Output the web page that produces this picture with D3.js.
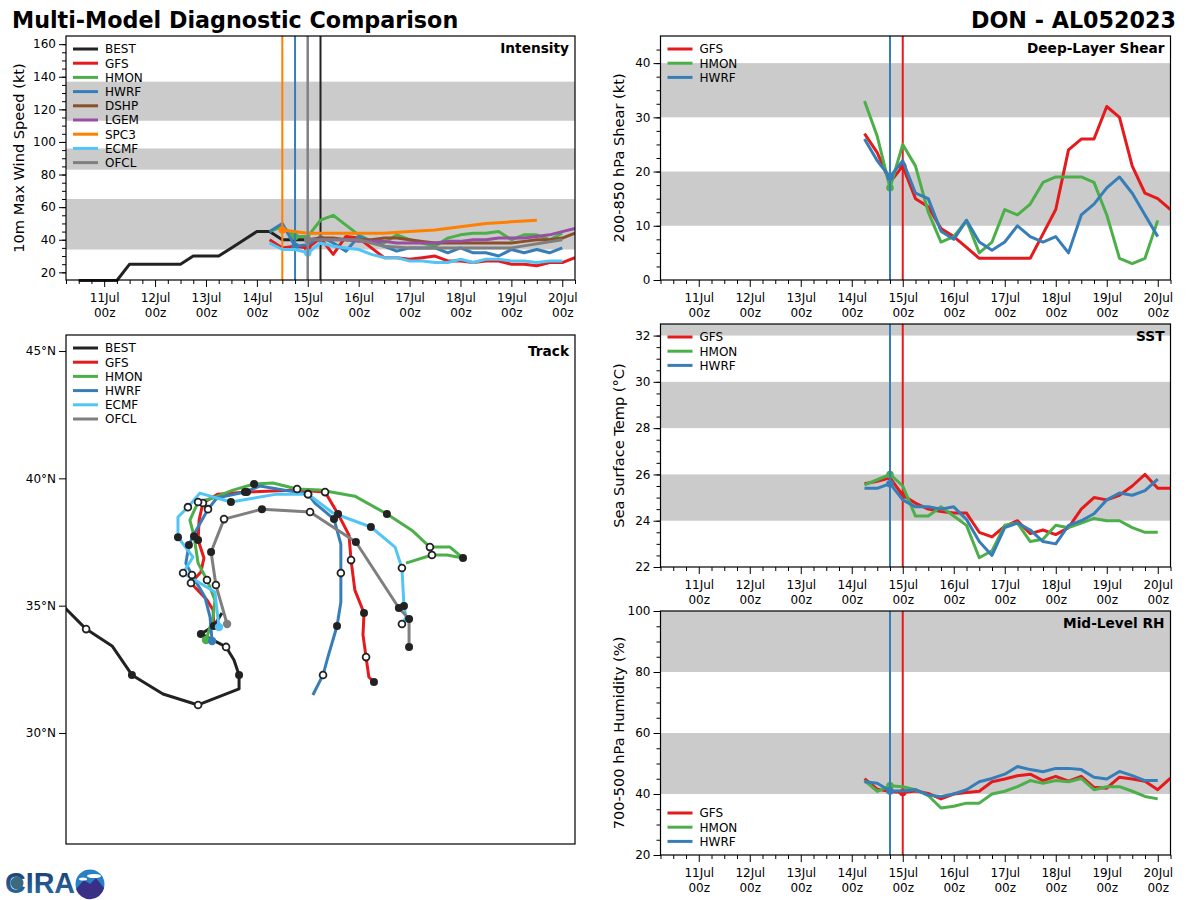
<!DOCTYPE html>
<html>
<head>
<meta charset="utf-8">
<script src="https://cdn.jsdelivr.net/npm/d3@7"></script>
<style>
body { margin: 0; background: #fff; }
text { font-family: "DejaVu Sans", sans-serif; fill: #000; }
</style>
</head>
<body>
<div id="chart"></div>
<script>
// hours are counted from 11Jul 00z
const tickHours = [0, 24, 48, 72, 96, 120, 144, 168, 192, 216]
const tickDays = ['11Jul', '12Jul', '13Jul', '14Jul', '15Jul', '16Jul', '17Jul', '18Jul', '19Jul', '20Jul']

const bestHours = [-12, -6, 0, 6, 12, 18, 24, 30, 36, 42, 48, 54, 60, 66, 72, 78, 84, 90, 96, 102]
const bestWind = [15, 15, 15, 15, 25, 25, 25, 25, 25, 30, 30, 30, 35, 40, 45, 45, 40, 40, 40, 40]

// 6 hourly from 14Jul 06z (hour 78)
const gfsWind = [40, 35, 36, 35, 41, 31, 42, 41, 35, 29, 29, 28, 29, 30, 27, 27, 26, 27, 27, 25, 25, 24, 26, 26, 29]
const hmonWind = [45, 48, 42, 42, 52, 55, 49, 43, 39, 38, 43, 40, 38, 36, 41, 43, 44, 44, 45, 40, 43, 43, 40, 44]
const hwrfWind = [45, 50, 36, 37, 42, 38, 33, 42, 39, 36, 33, 35, 35, 35, 32, 35, 32, 32, 30, 34, 32, 34, 32, 35]
const ecmfWind = [38, 34, 34, 32, 38, 36, 35, 34, 31, 29, 29, 27, 27, 26, 26, 28, 26, 28, 28, 27, 27, 26, 27, 27]
// 6 hourly from 15Jul 00z (hour 96)
const dshpWind = [40, 41, 41, 40, 40, 40, 41, 41, 40, 39, 38, 38, 38, 38, 38, 38, 38, 39, 40, 40, 41, 44]
const lgemWind = [40, 40, 40, 40, 39, 39, 39, 38, 38, 38, 38, 39, 39, 40, 40, 41, 41, 41, 42, 43, 45, 47]
// these two are not 6 hourly
const spc3Hours = [84, 96, 108, 120, 132, 144, 156, 168, 180, 192, 204]
const spc3Wind = [46, 44, 44, 44, 44, 45, 46, 48, 50, 51, 52]
const ofclHours = [96, 108, 120, 132, 144, 168, 192, 216]
const ofclWind = [40, 40, 40, 36, 35, 35, 35, 40]

const gfsShear = [27, 23.5, 18, 21, 15, 13.5, 9.5, 8, 6, 4, 4, 4, 4, 4, 8.5, 13, 24, 26, 26, 32, 30, 21, 16, 15, 13]
const hmonShear = [33, 26.5, 17, 25, 21, 12.5, 7, 8, 11, 5, 7, 13, 12, 14, 18, 19, 19, 19, 18, 12, 4, 3, 4, 11]
const hwrfShear = [26, 22, 19, 22, 16, 15, 9, 7.5, 11, 7, 5.5, 7, 10, 8, 7, 8, 5, 12, 14, 17, 19, 16, 12, 8]

const gfsSst = [25.6, 25.7, 25.85, 25.1, 24.76, 24.5, 24.4, 24.33, 24.33, 23.5, 23.3, 23.76, 24, 23.44, 23.6, 23.4, 23.7, 24.5, 25, 24.9, 25.1, 25.5, 26, 25.4, 25.4]
const hmonSst = [25.55, 25.77, 26, 25.5, 24.2, 24.2, 24.6, 24.2, 23.8, 22.4, 22.7, 23.8, 23.9, 23.1, 23.2, 23.8, 23.7, 23.9, 24.1, 24, 24, 23.7, 23.5, 23.5]
const hwrfSst = [25.4, 25.4, 25.6, 24.9, 24.6, 24.6, 24.5, 24.6, 24.05, 23.1, 22.5, 23.7, 23.9, 23.6, 23.1, 23, 23.8, 24, 24.3, 24.9, 25.2, 25.1, 25.3, 25.8]

const gfsRh = [45, 41.6, 40.8, 40.5, 41, 40.2, 38.4, 40, 40.5, 40.9, 44, 44.9, 46, 46.5, 44.4, 45.8, 44.2, 45.8, 42.2, 41.9, 45.5, 44.9, 44.2, 41.4, 45.2]
const hmonRh = [44.4, 40.9, 42.7, 42.4, 41.4, 39.5, 35.4, 36, 37, 37, 40, 40.9, 42.4, 44.4, 43.5, 44.4, 44, 45.1, 41.4, 42.4, 42.4, 40.9, 39.2, 38.4]
const hwrfRh = [44, 43.5, 41, 41, 41.4, 39.7, 39.2, 40, 41.4, 44, 45.1, 46.5, 49, 48, 47.3, 48.4, 48.4, 48, 45.5, 44.9, 47.4, 46, 44.4, 44.4]

// track points: lon, lat, synoptic time when the model marks one
const bestTrack = [[-60.08, 34.95], [-59.21, 34.08, '00z'], [-58.19, 33.42], [-57.41, 32.28, '12z'], [-56.19, 31.53], [-54.81, 31.10, '00z'], [-53.20, 31.73], [-53.20, 32.28, '12z'], [-53.40, 32.87], [-53.71, 33.38, '00z'], [-54.70, 33.89, '12z'], [-54.19, 34.20], [-53.87, 34.71]]
const gfsTrack = [[-54.19, 34.20, '12z'], [-54.22, 34.83], [-54.46, 35.22], [-55.09, 35.89, '00z'], [-54.70, 36.32], [-54.58, 36.87], [-54.81, 37.58, '12z'], [-54.77, 38.36], [-54.62, 39.03, '00z'], [-54.03, 39.38], [-52.89, 39.46, '12z'], [-50.92, 39.54], [-49.82, 39.46, '00z'], [-49.31, 38.60, '12z'], [-48.88, 37.77], [-48.80, 36.79, '00z'], [-48.65, 35.61], [-48.29, 34.71, '12z'], [-48.33, 33.85], [-48.21, 32.98, '00z'], [-48.10, 32.20], [-47.90, 32.00, '12z']]
const hmonTrack = [[-54.50, 33.65], [-54.22, 34.55], [-54.15, 35.22], [-54.46, 36.01, '00z'], [-54.81, 36.67], [-54.97, 37.73, '12z'], [-55.13, 38.36], [-54.81, 39.07, '00z'], [-54.22, 39.23], [-53.44, 39.54], [-52.61, 39.78, '12z'], [-51.87, 39.82], [-50.92, 39.58, '00z'], [-50.02, 39.54], [-48.65, 39.30], [-47.39, 38.60, '12z'], [-46.37, 37.93], [-45.70, 37.30, '00z'], [-44.91, 37.30], [-44.40, 36.87, '12z'], [-45.03, 36.99], [-45.62, 36.99, '00z'], [-46.64, 36.67]]
const hwrfTrack = [[-54.26, 33.61], [-54.34, 34.55], [-54.54, 35.34], [-55.05, 36.20, '00z'], [-55.29, 36.67], [-55.17, 37.38, '12z'], [-54.99, 37.77], [-54.42, 38.79, '00z'], [-54.07, 39.23], [-52.97, 39.46, '12z'], [-52.38, 39.70], [-50.49, 39.38, '00z'], [-50.22, 39.03], [-49.47, 38.40, '12z'], [-49.20, 37.42], [-49.20, 36.28, '00z'], [-49.20, 35.14], [-49.35, 34.20, '12z'], [-49.71, 32.98], [-49.90, 32.28, '00z'], [-50.30, 31.49]]
const ecmfTrack = [[-53.99, 34.16], [-54.15, 35.54], [-54.74, 35.89], [-55.40, 36.28, '00z'], [-55.01, 36.91], [-55.60, 37.69, '12z'], [-55.60, 38.48], [-55.21, 38.87, '00z'], [-54.74, 39.42], [-53.52, 39.07, '12z'], [-51.71, 39.38], [-50.49, 39.38, '00z'], [-49.51, 38.64], [-48.02, 38.09, '12z'], [-47.07, 37.30], [-46.80, 36.48, '00z'], [-46.72, 34.99, '12z'], [-46.64, 34.55], [-46.80, 34.28, '00z']]
const ofclTrack = [[-53.67, 34.28], [-54.11, 35.81, '00z'], [-54.30, 37.11, '12z'], [-53.79, 38.40, '00z'], [-52.30, 38.79, '12z'], [-50.41, 38.68, '00z'], [-48.61, 37.50, '12z'], [-46.92, 34.91, '12z'], [-46.52, 34.48, '12z'], [-46.52, 33.38, '12z']]
const latTicks = [30, 35, 40, 45]

const colors = { BEST: '#222222', GFS: '#e41a1c', HMON: '#4daf4a', HWRF: '#377eb8', DSHP: '#8c4f2b', LGEM: '#984ea3', SPC3: '#ff7f00', ECMF: '#52c5f7', OFCL: '#7f7f7f' }
const bandFill = '#cbcbcb'

const svg = d3.select('#chart').append('svg').attr('width', 1200).attr('height', 900)

svg.append('text').attr('x', 12).attr('y', 28).attr('font-size', 22.25).attr('font-weight', 'bold').text('Multi-Model Diagnostic Comparison')
svg.append('text').attr('x', 1176).attr('y', 28).attr('text-anchor', 'end').attr('font-size', 22.25).attr('font-weight', 'bold').text('DON - AL052023')

function sixHourly(values, start) {
    return values.map((v, i) => [start + i * 6, v])
}
function zipHours(hours, values) {
    return hours.map((h, i) => [h, values[i]])
}

let clipCount = 0
function makePanel(box, title, titleY) {
    const g = svg.append('g').attr('transform', 'translate(' + box.left + ',' + box.top + ')')
    const id = 'clip' + (clipCount++)
    // a little room below so the BEST line at the floor still shows
    g.append('clipPath').attr('id', id).append('rect').attr('y', -2).attr('width', box.w).attr('height', box.h + 4)
    const plot = g.append('g').attr('clip-path', 'url(#' + id + ')')
    const top = g.append('g')
    top.append('rect').attr('width', box.w).attr('height', box.h).attr('fill', 'none').attr('stroke', '#000').attr('stroke-width', 1.2)
    top.append('text').attr('x', box.w - 6).attr('y', titleY).attr('text-anchor', 'end')
        .attr('font-size', 13.7).attr('font-weight', 'bold').text(title)
    return { g: g, plot: plot, top: top }
}

function addLegend(top, names, x0, y0) {
    names.forEach((name, i) => {
        const y = y0 + i * 14.2
        top.append('line').attr('x1', x0).attr('x2', x0 + 25).attr('y1', y).attr('y2', y)
            .attr('stroke', colors[name]).attr('stroke-width', 3)
        top.append('text').attr('x', x0 + 32).attr('y', y + 4.3).attr('font-size', 12).text(name)
    })
}

function timePanel(opt) {
    const box = opt.box
    const p = makePanel(box, opt.title, 17)
    const x = d3.scaleLinear().domain([-18, 222]).range([0, box.w])
    const y = d3.scaleLinear().domain(opt.domain).range([box.h, 0])

    opt.bands.forEach(b => {
        p.plot.append('rect').attr('x', 0).attr('width', box.w)
            .attr('y', y(b[1])).attr('height', y(b[0]) - y(b[1])).attr('fill', bandFill)
    })

    const line = d3.line().x(d => x(d[0])).y(d => y(d[1]))
    opt.series.forEach(s => {
        if (s.init !== undefined && s.name !== 'HMON') {
            p.plot.append('line').attr('x1', x(s.init)).attr('x2', x(s.init)).attr('y1', 0).attr('y2', box.h)
                .attr('stroke', colors[s.name]).attr('stroke-width', 2)
        }
        p.plot.append('path').attr('d', line(s.points)).attr('fill', 'none')
            .attr('stroke', colors[s.name]).attr('stroke-width', 3).attr('stroke-linejoin', 'round')
        const dot = s.points.find(d => d[0] === s.init)
        if (dot && s.name !== 'BEST') {
            p.plot.append('circle').attr('cx', x(dot[0])).attr('cy', y(dot[1])).attr('r', 3.8).attr('fill', colors[s.name])
        }
    })

    // x axis, with 6 hourly minor ticks
    const minorX = d3.range(-18, 223, 6).filter(h => !tickHours.includes(h))
    p.g.append('g').attr('transform', 'translate(0,' + box.h + ')')
        .call(d3.axisBottom(x).tickValues(minorX).tickSize(4).tickFormat(''))
        .call(a => a.select('.domain').remove())
    const xAxis = p.g.append('g').attr('transform', 'translate(0,' + box.h + ')')
        .call(d3.axisBottom(x).tickValues(tickHours).tickSize(7).tickFormat((d, i) => tickDays[i]))
    xAxis.select('.domain').remove()
    xAxis.selectAll('text').attr('y', 13).attr('dy', '0.71em').attr('font-size', 12).attr('font-family', null)
    xAxis.selectAll('.tick').append('text').attr('y', 28).attr('dy', '0.71em').attr('fill', '#000').attr('text-anchor', 'middle').attr('font-size', 12).text('00z')

    // y axis
    p.g.append('g').call(d3.axisLeft(y).tickValues(opt.minor).tickSize(4).tickFormat(''))
        .call(a => a.select('.domain').remove())
    const yAxis = p.g.append('g').call(d3.axisLeft(y).tickValues(opt.ticks).tickSize(7).tickPadding(3))
    yAxis.select('.domain').remove()
    yAxis.selectAll('text').attr('font-size', 12)

    p.g.append('text').attr('transform', 'translate(' + (-opt.labelGap) + ',' + (box.h / 2) + ') rotate(-90)')
        .attr('text-anchor', 'middle').attr('font-size', 14.6).text(opt.ylabel)

    addLegend(p.top, opt.series.map(s => s.name), 7, opt.legendY)
}

function threeModels(gfs, hmon, hwrf) {
    return [
        { name: 'GFS', points: sixHourly(gfs, 78), init: 96 },
        { name: 'HMON', points: sixHourly(hmon, 78), init: 90 },
        { name: 'HWRF', points: sixHourly(hwrf, 78), init: 90 }
    ]
}

timePanel({
    box: { left: 66, top: 36, w: 509, h: 244 },
    title: 'Intensity', ylabel: '10m Max Wind Speed (kt)', labelGap: 42, legendY: 13,
    domain: [15.3, 165], ticks: d3.range(20, 161, 20), minor: d3.range(20, 165, 5),
    bands: [[34, 65], [83, 96], [113, 137]],
    series: [
        { name: 'BEST', points: zipHours(bestHours, bestWind), init: 102 },
        { name: 'GFS', points: sixHourly(gfsWind, 78), init: 96 },
        { name: 'HMON', points: sixHourly(hmonWind, 78), init: 90 },
        { name: 'HWRF', points: sixHourly(hwrfWind, 78), init: 90 },
        { name: 'DSHP', points: sixHourly(dshpWind, 96) },
        { name: 'LGEM', points: sixHourly(lgemWind, 96) },
        { name: 'SPC3', points: zipHours(spc3Hours, spc3Wind), init: 84 },
        { name: 'ECMF', points: sixHourly(ecmfWind, 78), init: 96 },
        { name: 'OFCL', points: zipHours(ofclHours, ofclWind), init: 96 }
    ]
})

timePanel({
    box: { left: 660.5, top: 36, w: 510, h: 244 },
    title: 'Deep-Layer Shear', ylabel: '200-850 hPa Shear (kt)', labelGap: 37, legendY: 13,
    domain: [0, 45], ticks: d3.range(0, 41, 10), minor: d3.range(0, 45, 2.5),
    bands: [[10, 20], [30, 40]],
    series: threeModels(gfsShear, hmonShear, hwrfShear)
})

timePanel({
    box: { left: 660.5, top: 324, w: 510, h: 243 },
    title: 'SST', ylabel: 'Sea Surface Temp (°C)', labelGap: 37, legendY: 13,
    domain: [22, 32.5], ticks: d3.range(22, 33, 2), minor: d3.range(22, 32.5, 0.5),
    bands: [[24, 26], [28, 30], [32, 32.5]],
    series: threeModels(gfsSst, hmonSst, hwrfSst)
})

timePanel({
    box: { left: 660.5, top: 611, w: 510, h: 244 },
    title: 'Mid-Level RH', ylabel: '700-500 hPa Humidity (%)', labelGap: 37, legendY: 202,
    domain: [20, 100], ticks: d3.range(20, 101, 20), minor: d3.range(20, 101, 5),
    bands: [[40, 60], [80, 100]],
    series: threeModels(gfsRh, hmonRh, hwrfRh)
})

// track panel
function trackPanel() {
    const box = { left: 66, top: 335, w: 509, h: 509 }
    const p = makePanel(box, 'Track', 21)
    const x = d3.scaleLinear().domain([-60, -40]).range([0, box.w])
    const y = d3.scaleLinear().domain([25.64, 45.63]).range([box.h, 0])
    const line = d3.line().x(d => x(d[0])).y(d => y(d[1]))
    const tracks = [['BEST', bestTrack], ['GFS', gfsTrack], ['HMON', hmonTrack], ['HWRF', hwrfTrack], ['ECMF', ecmfTrack], ['OFCL', ofclTrack]]

    tracks.forEach(t => {
        p.plot.append('path').attr('d', line(t[1])).attr('fill', 'none')
            .attr('stroke', colors[t[0]]).attr('stroke-width', 3).attr('stroke-linejoin', 'round')
    })
    tracks.forEach(t => {
        t[1].filter(d => d[2]).forEach(d => {
            p.plot.append('circle').attr('cx', x(d[0])).attr('cy', y(d[1])).attr('r', d[2] === '00z' ? 3.4 : 4)
                .attr('fill', d[2] === '00z' ? '#fff' : '#222222')
                .attr('stroke', '#222222').attr('stroke-width', d[2] === '00z' ? 1.8 : 0)
        })
    })
    // the model starting positions
    tracks.slice(2).forEach(t => {
        const d = t[1][0]
        p.plot.append('circle').attr('cx', x(d[0])).attr('cy', y(d[1])).attr('r', 4.2).attr('fill', colors[t[0]])
    })

    const yAxis = p.g.append('g').call(d3.axisLeft(y).tickValues(latTicks).tickSize(7).tickPadding(3).tickFormat(d => d + '°N'))
    yAxis.select('.domain').remove()
    yAxis.selectAll('text').attr('font-size', 12)
    addLegend(p.top, tracks.map(t => t[0]), 7, 13)
}
trackPanel()

// CIRA logo, drawn small in the lower left
const logo = svg.append('g')
const defs = svg.append('defs')
const grad = defs.append('linearGradient').attr('id', 'logoText').attr('x1', 0).attr('x2', 0).attr('y1', 0).attr('y2', 1)
grad.append('stop').attr('offset', 0).attr('stop-color', '#16386e')
grad.append('stop').attr('offset', 1).attr('stop-color', '#2f6fa8')
logo.append('text').attr('x', 5).attr('y', 893).attr('font-size', 30).attr('font-family', 'Liberation Sans')
    .attr('font-weight', 'bold').attr('textLength', 70).attr('lengthAdjust', 'spacingAndGlyphs')
    .style('fill', 'url(#logoText)').style('font-family', '"Liberation Sans"').text('CIRA')
logo.append('circle').attr('cx', 17).attr('cy', 883).attr('r', 6.5).attr('fill', '#3d6a7a')
logo.append('circle').attr('cx', 90).attr('cy', 884).attr('r', 14.5).attr('fill', '#2a80c4')
logo.append('path').attr('d', 'M76 889 L84 880 L90 884 L96 878 L104 888 A14.5 14.5 0 0 1 76 889 Z').attr('fill', '#3a2f86')
logo.append('ellipse').attr('cx', 94).attr('cy', 876).attr('rx', 7).attr('ry', 2).attr('fill', '#fff')
logo.append('ellipse').attr('cx', 83).attr('cy', 879).attr('rx', 4).attr('ry', 1.5).attr('fill', '#fff')
</script>
</body>
</html>
